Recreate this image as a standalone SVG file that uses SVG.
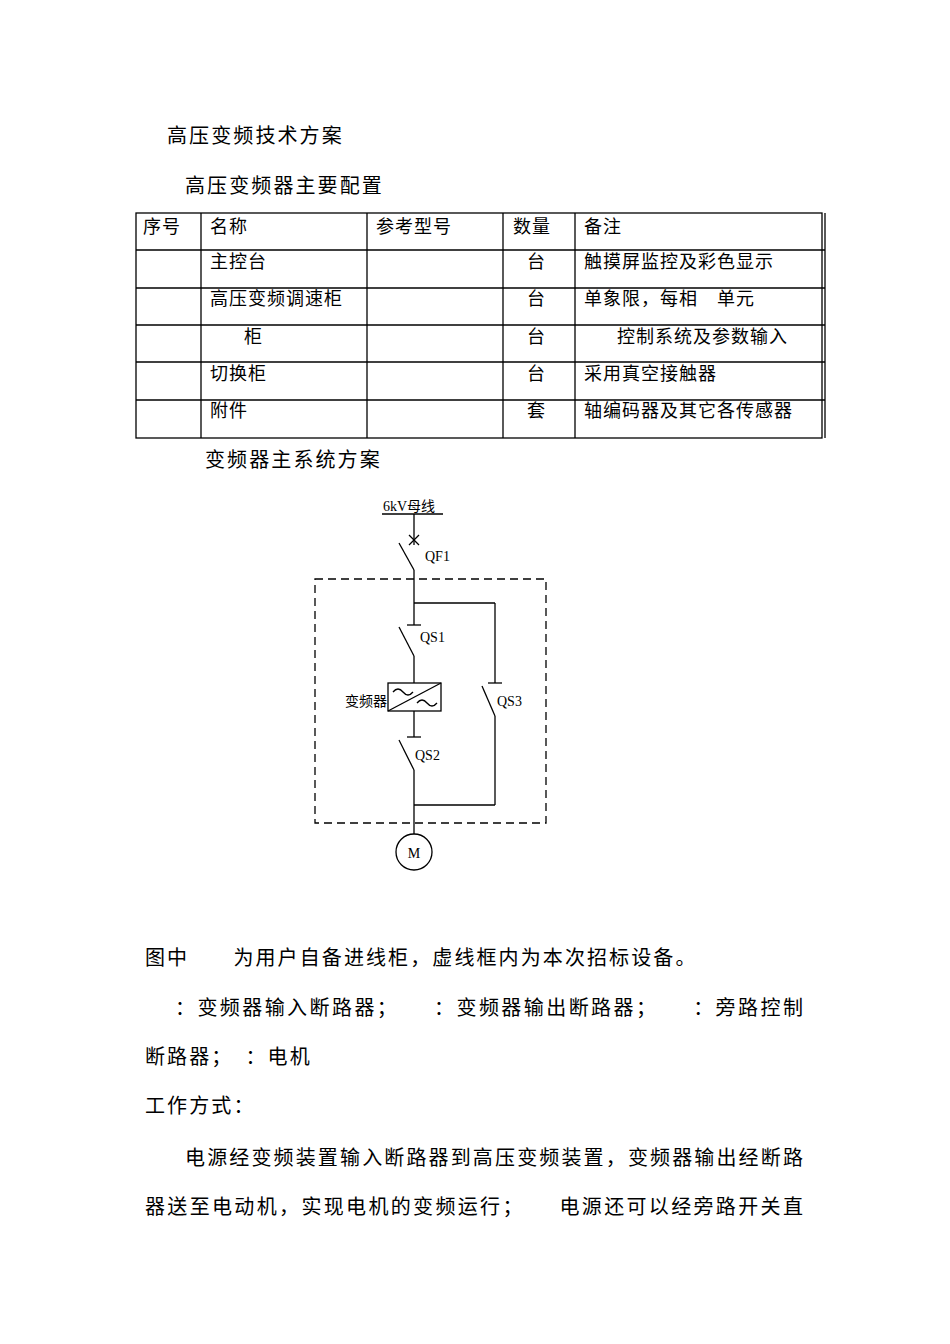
<svg xmlns="http://www.w3.org/2000/svg" width="950" height="1344" viewBox="0 0 950 1344">
<style>
text{font-family:"Liberation Serif","Noto Sans CJK SC",serif;fill:#000}
.b{font-size:20px;letter-spacing:2.1px}
.t{font-size:18px;letter-spacing:1px}
.s{font-size:14px}
.l{stroke:#000;stroke-width:1.3;fill:none}
</style>
<rect width="950" height="1344" fill="#fff"/>
<text class="b" x="167" y="143">高压变频技术方案</text>
<text class="b" x="185" y="193">高压变频器主要配置</text>
<g id="table" class="l">
<rect x="136" y="213" width="686" height="225"/>
<line x1="825" y1="213" x2="825" y2="438"/>
<line x1="136" y1="250" x2="825" y2="250"/>
<line x1="136" y1="288" x2="825" y2="288"/>
<line x1="136" y1="325" x2="825" y2="325"/>
<line x1="136" y1="362" x2="825" y2="362"/>
<line x1="136" y1="400" x2="825" y2="400"/>
<line x1="201" y1="213" x2="201" y2="438"/>
<line x1="367" y1="213" x2="367" y2="438"/>
<line x1="503" y1="213" x2="503" y2="438"/>
<line x1="575" y1="213" x2="575" y2="438"/>
</g>
<g id="tabletext">
<text class="t" x="143" y="233">序号</text><text class="t" x="210" y="233">名称</text><text class="t" x="376" y="233">参考型号</text><text class="t" x="513" y="233">数量</text><text class="t" x="584" y="233">备注</text>
<text class="t" x="210" y="268">主控台</text><text class="t" x="527" y="268">台</text><text class="t" x="584" y="268">触摸屏监控及彩色显示</text>
<text class="t" x="210" y="305">高压变频调速柜</text><text class="t" x="527" y="305">台</text><text class="t" x="584" y="305">单象限，每相　单元</text>
<text class="t" x="244" y="343">柜</text><text class="t" x="527" y="343">台</text><text class="t" x="617" y="343">控制系统及参数输入</text>
<text class="t" x="210" y="380">切换柜</text><text class="t" x="527" y="380">台</text><text class="t" x="584" y="380">采用真空接触器</text>
<text class="t" x="210" y="417">附件</text><text class="t" x="527" y="417">套</text><text class="t" x="584" y="417">轴编码器及其它各传感器</text>
</g>
<text class="b" x="205" y="467">变频器主系统方案</text>
<g id="connectors" class="l">
<line x1="382" y1="514" x2="443" y2="514"/>
<line x1="414" y1="514" x2="414" y2="545"/>
<line x1="409" y1="535" x2="419" y2="545"/><line x1="419" y1="535" x2="409" y2="545"/>
<line x1="399" y1="543" x2="414" y2="570"/>
<line x1="414" y1="570" x2="414" y2="625"/>
<line x1="414" y1="603" x2="495" y2="603"/>
<line x1="407" y1="625" x2="421" y2="625"/>
<line x1="399" y1="627" x2="414" y2="656"/>
<line x1="414" y1="656" x2="414" y2="683"/>
<line x1="414" y1="711" x2="414" y2="737"/>
<line x1="407" y1="737" x2="421" y2="737"/>
<line x1="399" y1="740" x2="414" y2="770"/>
<line x1="414" y1="770" x2="414" y2="834"/>
<line x1="414" y1="805" x2="495" y2="805"/>
<line x1="495" y1="603" x2="495" y2="683"/>
<line x1="488" y1="683" x2="502" y2="683"/>
<line x1="482" y1="686" x2="495" y2="716"/>
<line x1="495" y1="716" x2="495" y2="805"/>
<rect x="315" y="579" width="231" height="244" stroke-dasharray="8,5"/>
</g>
<g id="bus"><text class="s" x="383" y="511">6kV母线</text></g>
<g id="QF1"><text class="s" x="425" y="561">QF1</text></g>
<g id="QS1"><text class="s" x="420" y="642">QS1</text></g>
<g id="QS2"><text class="s" x="415" y="760">QS2</text></g>
<g id="QS3"><text class="s" x="497" y="706">QS3</text></g>
<g id="vfd" class="l">
<rect x="388" y="683" width="53" height="28"/>
<line x1="388" y1="711" x2="441" y2="683"/>
<path d="M393 692 q5 -6 10 0 t10 0"/>
<path d="M417 703 q5 -6 10 0 t10 0"/>
<text x="387" y="706" text-anchor="end" style="font-size:14px;font-family:'Noto Sans CJK SC',sans-serif;stroke:none">变频器</text>
</g>
<g id="motor"><circle cx="414" cy="852" r="18" class="l"/><text class="s" x="414" y="858" text-anchor="middle">M</text></g>
<g>
<text class="b" x="145" y="965">图中　　为用户自备进线柜，虚线框内为本次招标设备。</text>
<text class="b" x="175" y="1015" textLength="630">：变频器输入断路器；　　：变频器输出断路器；　　：旁路控制</text>
<text class="b" x="145" y="1064">断路器；　：电机</text>
<text class="b" x="145" y="1113">工作方式：</text>
<text class="b" x="185" y="1165" textLength="620">电源经变频装置输入断路器到高压变频装置，变频器输出经断路</text>
<text class="b" x="145" y="1214" textLength="660">器送至电动机，实现电机的变频运行；　　电源还可以经旁路开关直</text>
</g>
</svg>
